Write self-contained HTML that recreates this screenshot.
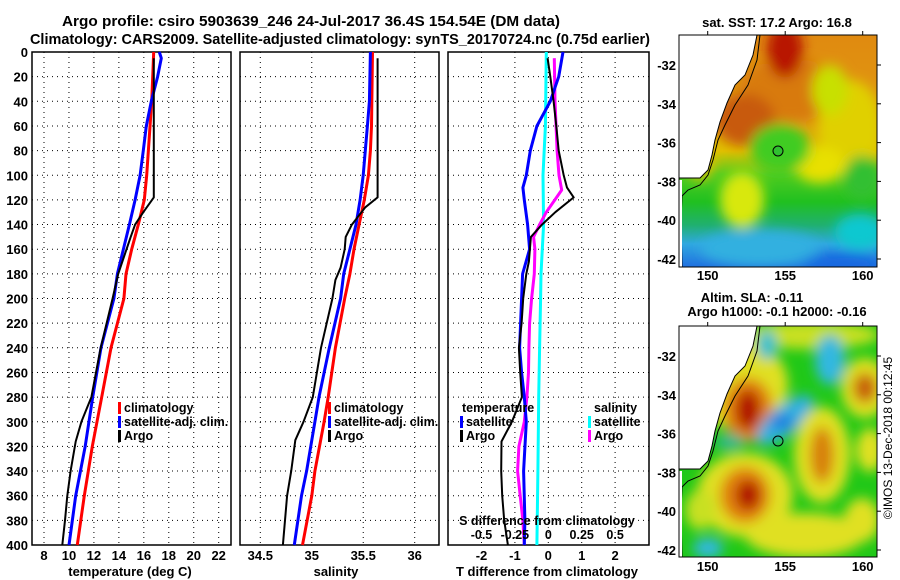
<!DOCTYPE html>
<html><head><meta charset="utf-8">
<style>
html,body{margin:0;padding:0;background:#fff;}
svg{display:block;font-family:"Liberation Sans",Arial,sans-serif;font-weight:bold;}
</style></head>
<body>
<svg id="chart" width="900" height="580" viewBox="0 0 900 580" xmlns="http://www.w3.org/2000/svg">
<defs>
  <filter id="blur" x="-50%" y="-50%" width="200%" height="200%"><feGaussianBlur stdDeviation="6"/></filter>
  <clipPath id="clipTop"><rect x="679" y="35" width="198" height="232"/></clipPath>
  <clipPath id="clipBot"><rect x="679" y="326" width="198" height="231"/></clipPath>
  <linearGradient id="sstBase" x1="0" y1="35" x2="0" y2="267" gradientUnits="userSpaceOnUse">
    <stop offset="0" stop-color="#e08a10"/><stop offset="0.37" stop-color="#e09a10"/>
    <stop offset="0.5" stop-color="#e0c000"/><stop offset="0.6" stop-color="#50cc20"/>
    <stop offset="0.72" stop-color="#20c020"/><stop offset="0.82" stop-color="#20b070"/>
    <stop offset="0.9" stop-color="#30a8e0"/><stop offset="1" stop-color="#2070e0"/>
  </linearGradient>
</defs>
<text x="62" y="26" font-size="15" textLength="498" lengthAdjust="spacingAndGlyphs">Argo profile: csiro 5903639_246 24-Jul-2017 36.4S 154.54E (DM data)</text>
<text x="30" y="44" font-size="15" textLength="620" lengthAdjust="spacingAndGlyphs">Climatology: CARS2009. Satellite-adjusted climatology: synTS_20170724.nc (0.75d earlier)</text>
<g id="panels"></g>
<g id="maps">
  <g clip-path="url(#clipTop)">
    <rect x="679" y="35" width="198" height="232" fill="url(#sstBase)"/>
    <g filter="url(#blur)">
      <ellipse cx="790" cy="90" rx="50" ry="32" fill="#d87a10"/>
      <ellipse cx="785" cy="50" rx="18" ry="28" fill="#b81800"/>
      <ellipse cx="745" cy="120" rx="30" ry="26" fill="#c85a10"/>
      <ellipse cx="850" cy="125" rx="32" ry="45" fill="#e0d000"/>
      <ellipse cx="830" cy="90" rx="18" ry="25" fill="#c8e000"/>
      <ellipse cx="820" cy="165" rx="25" ry="18" fill="#e8e000"/>
      <ellipse cx="780" cy="148" rx="30" ry="24" fill="#40cc20"/>
      <ellipse cx="742" cy="200" rx="22" ry="28" fill="#d8e810"/>
      <ellipse cx="862" cy="178" rx="18" ry="22" fill="#30c030"/>
      <ellipse cx="760" cy="248" rx="60" ry="18" fill="#30b0e0"/>
      <ellipse cx="860" cy="232" rx="25" ry="18" fill="#10c8d0"/>
      <ellipse cx="840" cy="264" rx="40" ry="10" fill="#1868e0"/>
      <ellipse cx="700" cy="160" rx="14" ry="20" fill="#e8c000"/>
    </g>
    <g>
      <polygon points="679,35 757,35 753,55 745,75 735,85 727,103 720,122 715,140 712,155 708,170 700,178 679,178" fill="#fff"/>
      <polyline points="757,35 753,55 745,75 735,85 727,103 720,122 715,140 712,155 708,170 700,178 679,178" fill="none" stroke="#000" stroke-width="1"/>
      <polyline points="760,35 757,60 748,85 735,105 725,125 718,140 713,160 708,175 700,185 688,190 682,196 681,220 682,267" fill="none" stroke="#000" stroke-width="1"/>
      <rect x="679" y="180" width="3" height="87" fill="#fff"/>
    </g>
    <circle cx="778" cy="151" r="5" fill="#30c030" stroke="#000" stroke-width="1"/>
  </g>
  <rect x="679" y="35" width="198" height="232" fill="none" stroke="#000" stroke-width="1"/>
  <g clip-path="url(#clipBot)">
    <rect x="679" y="326" width="198" height="231" fill="#20c818"/>
    <g filter="url(#blur)">
      <ellipse cx="810" cy="335" rx="70" ry="14" fill="#c8e020"/>
      <ellipse cx="740" cy="385" rx="48" ry="45" fill="#e0e020"/>
      <ellipse cx="748" cy="410" rx="25" ry="32" fill="#e08010"/>
      <ellipse cx="748" cy="410" rx="12" ry="20" fill="#b01000"/>
      <ellipse cx="745" cy="495" rx="48" ry="42" fill="#e0e020"/>
      <ellipse cx="745" cy="495" rx="25" ry="28" fill="#e08010"/>
      <ellipse cx="748" cy="495" rx="12" ry="15" fill="#b01000"/>
      <ellipse cx="785" cy="420" rx="35" ry="14" fill="#30b0e0" transform="rotate(-40 785 420)"/>
      <ellipse cx="782" cy="422" rx="12" ry="8" fill="#2080e0"/>
      <ellipse cx="767" cy="345" rx="10" ry="15" fill="#30c0d0"/>
      <ellipse cx="830" cy="360" rx="15" ry="25" fill="#30b8e0"/>
      <ellipse cx="822" cy="455" rx="28" ry="48" fill="#e0e020"/>
      <ellipse cx="822" cy="455" rx="12" ry="28" fill="#d88010"/>
      <ellipse cx="865" cy="388" rx="24" ry="30" fill="#e0e020"/>
      <ellipse cx="865" cy="388" rx="12" ry="15" fill="#c86010"/>
      <ellipse cx="870" cy="450" rx="14" ry="22" fill="#e0e020"/>
      <ellipse cx="805" cy="535" rx="60" ry="22" fill="#e0e020"/>
      <ellipse cx="862" cy="520" rx="18" ry="22" fill="#e0e020"/>
      <ellipse cx="708" cy="548" rx="15" ry="10" fill="#30b8e0"/>
      <ellipse cx="730" cy="442" rx="15" ry="8" fill="#30b890"/>
      <ellipse cx="700" cy="510" rx="15" ry="20" fill="#c8e020"/>
    </g>
    <g transform="translate(0,291)">
      <polygon points="679,35 757,35 753,55 745,75 735,85 727,103 720,122 715,140 712,155 708,170 700,178 679,178" fill="#fff"/>
      <polyline points="757,35 753,55 745,75 735,85 727,103 720,122 715,140 712,155 708,170 700,178 679,178" fill="none" stroke="#000" stroke-width="1"/>
      <polyline points="760,35 757,60 748,85 735,105 725,125 718,140 713,160 708,175 700,185 688,190 682,196 681,220 682,267" fill="none" stroke="#000" stroke-width="1"/>
      <rect x="679" y="180" width="3" height="87" fill="#fff"/>
    </g>
    <circle cx="778" cy="441" r="5" fill="none" stroke="#000" stroke-width="1"/>
  </g>
  <rect x="679" y="326" width="198" height="231" fill="none" stroke="#000" stroke-width="1"/>
  <text x="777" y="27" font-size="13" text-anchor="middle">sat. SST: 17.2 Argo: 16.8</text>
  <text x="752" y="302" font-size="13" text-anchor="middle">Altim. SLA: -0.11</text>
  <text x="777" y="316" font-size="13" text-anchor="middle">Argo h1000: -0.1 h2000: -0.16</text>
  <text x="0" y="0" font-size="12" font-weight="normal" text-anchor="middle" transform="translate(892,438) rotate(-90)">©IMOS 13-Dec-2018 00:12:45</text>
  <g id="mapAxes"></g>
</g>
</svg>
<script>
// ---------- data ----------
const depthTicks = [0,20,40,60,80,100,120,140,160,180,200,220,240,260,280,300,320,340,360,380,400];
const tempTicks = [8,10,12,14,16,18,20,22];
const salTicks = [34.5,35,35.5,36];
const salTickLabels = ['34.5','35','35.5','36'];
const tdiffTicks = [-2,-1,0,1,2];
const sdiffTicks = [-0.5,-0.25,0,0.25,0.5];
const sdiffTickLabels = ['-0.5','-0.25','0','0.25','0.5'];

const climTDepth = [0,40,100,120,140,160,180,200,240,280,320,360,400];
const climT      = [16.79,16.63,16.23,16.04,15.56,15.03,14.57,14.4,13.37,12.62,11.87,11.23,10.67];
const satTDepth  = [0,5,20,40,60,80,100,120,140,160,180,200,240,280,320,360,400];
const satT       = [17.24,17.4,17.1,16.6,16.2,15.96,15.7,15.3,14.84,14.36,13.88,13.6,12.57,11.9,11.3,10.54,10.0];
const argoTDepth = [5,118,130,140,150,180,200,240,260,280,290,300,316,340,360,380,400];
const argoT      = [16.8,16.8,15.96,15.3,14.95,13.95,13.5,12.54,12.17,11.8,11.4,11.0,10.54,10.13,9.87,9.68,9.47];

const climSDepth = [0,60,80,100,120,140,160,180,200,240,280,300,340,360,400];
const climS      = [35.59,35.58,35.57,35.55,35.51,35.46,35.41,35.37,35.32,35.23,35.16,35.12,35.03,35.0,34.91];
const satSDepth  = [0,20,40,60,80,100,120,140,160,180,200,240,280,300,340,360,400];
const satS       = [35.57,35.565,35.56,35.54,35.52,35.5,35.47,35.43,35.37,35.31,35.28,35.17,35.07,35.03,34.95,34.9,34.83];
const argoSDepth = [5,118,126,140,150,160,175,185,200,240,280,300,315,340,360,400];
const argoS      = [35.64,35.64,35.52,35.39,35.33,35.32,35.28,35.23,35.2,35.09,35.01,34.92,34.84,34.8,34.76,34.72];

const dSatTDepth = [0,20,40,60,80,100,110,120,140,160,180,200,220,240,260,280,300,340,380,400];
const dSatT      = [0.44,0.31,0.06,-0.34,-0.54,-0.66,-0.76,-0.72,-0.62,-0.56,-0.77,-0.8,-0.83,-0.86,-0.8,-0.72,-0.66,-0.74,-0.7,-0.72];
const dArgoTDepth= [5,20,40,60,80,100,110,118,130,140,150,170,180,200,220,240,260,280,300,316,340,360,380,400];
const dArgoT     = [-0.02,0.06,0.16,0.24,0.31,0.46,0.56,0.76,0.21,-0.19,-0.52,-0.58,-0.66,-0.75,-0.8,-0.88,-0.84,-0.79,-1.09,-1.4,-1.41,-1.38,-1.32,-1.21];
const dSatSDepth = [0,60,100,140,180,200,240,280,340,400];
const dSatS      = [-0.015,-0.022,-0.04,-0.035,-0.055,-0.058,-0.065,-0.072,-0.078,-0.085];
const dArgoSDepth= [5,40,80,100,112,130,140,150,160,180,200,220,240,260,280,300,320,340,360,380,400];
const dArgoS     = [0.045,0.05,0.066,0.08,0.1,-0.015,-0.065,-0.11,-0.1,-0.105,-0.125,-0.14,-0.145,-0.148,-0.16,-0.18,-0.22,-0.23,-0.21,-0.19,-0.18];

const mapLatTicks = [-32,-34,-36,-38,-40,-42];
const mapLonTicks = [150,155,160];

// ---------- helpers ----------
const NS = 'http://www.w3.org/2000/svg';
function el(tag, attrs, parent){const e=document.createElementNS(NS,tag);for(const k in attrs)e.setAttribute(k,attrs[k]);parent.appendChild(e);return e;}
const Y0=52, Y1=545;
function yD(d){return Y0+(Y1-Y0)*d/400;}
function lin(v0,p0,v1,p1){return v=>p0+(v-v0)*(p1-p0)/(v1-v0);}
const panelsG=document.getElementById('panels');

function drawPanel(name,x0,x1,xs,ticks,labels,gridTicks){
  const g=el('g',{},panelsG);
  
  
  depthTicks.forEach(d=>{ if(d>0&&d<400){ const l=el('line',{x1:x0,x2:x1,y1:yD(d),y2:yD(d),stroke:'#000','stroke-width':1,'stroke-dasharray':'1,4'},g);
     }});
  gridTicks.forEach(v=>{ const l=el('line',{x1:xs(v),x2:xs(v),y1:Y0,y2:Y1,stroke:'#000','stroke-width':1,'stroke-dasharray':'1,4'},g);
     });
  if(ticks){ ticks.forEach((v,i)=>{ const t=el('text',{x:xs(v),y:560,'font-size':13,'text-anchor':'middle'},g); t.textContent=labels[i];
     });}
  const fr=el('rect',{x:x0,y:Y0,width:x1-x0,height:Y1-Y0,fill:'none',stroke:'#000','stroke-width':1.5},g);
   
  return g;
}
function drawLine(g,xs,vals,depths,color,w,name){
  const pts=vals.map((v,i)=>xs(v).toFixed(1)+','+yD(depths[i]).toFixed(1)).join(' ');
  const p=el('polyline',{points:pts,fill:'none',stroke:color,'stroke-width':w,'stroke-linejoin':'round'},g);
  
  
}
function legend(g,x,y,color,label,name){
  el('rect',{x:x,y:y-10,width:3,height:12,fill:color},g);
  const t=el('text',{x:x+6,y:y,'font-size':12.5},g); t.textContent=label;
  
  
}

depthTicks.forEach(d=>{ const t=el('text',{x:28,y:yD(d)+5,'font-size':13,'text-anchor':'end'},panelsG); t.textContent=d;
   });

// Panel 1 temperature
const xT=lin(8,44,22,218.7);
const g1=drawPanel('temperature-panel',32,231,xT,tempTicks,tempTicks.map(String),tempTicks);
drawLine(g1,xT,climT,climTDepth,'#ff0000',3,'climatology-temperature-line');
drawLine(g1,xT,satT,satTDepth,'#0000ff',3,'satellite-temperature-line');
drawLine(g1,xT,argoT,argoTDepth,'#000',2,'argo-temperature-line');
legend(g1,118,412,'#ff0000','climatology','legend-climatology');
legend(g1,118,426,'#0000ff','satellite-adj. clim.','legend-satellite');
legend(g1,118,440,'#000','Argo','legend-argo');
let t=el('text',{x:130,y:576,'font-size':13,'text-anchor':'middle'},panelsG); t.textContent='temperature (deg C)';
 

// Panel 2 salinity
const xS=lin(34.5,260.3,36,414.7);
const g2=drawPanel('salinity-panel',240,439,xS,salTicks,salTickLabels,salTicks);
drawLine(g2,xS,climS,climSDepth,'#ff0000',3,'climatology-salinity-line');
drawLine(g2,xS,satS,satSDepth,'#0000ff',3,'satellite-salinity-line');
drawLine(g2,xS,argoS,argoSDepth,'#000',2,'argo-salinity-line');
legend(g2,328,412,'#ff0000','climatology','legend-climatology-s');
legend(g2,328,426,'#0000ff','satellite-adj. clim.','legend-satellite-s');
legend(g2,328,440,'#000','Argo','legend-argo-s');
t=el('text',{x:336,y:576,'font-size':13,'text-anchor':'middle'},panelsG); t.textContent='salinity';
 

// Panel 3 differences
const xDT=lin(0,548.3,1,581.7);
const xDS=lin(0,548.3,0.25,581.7);
const g3=drawPanel('difference-panel',448,649,xDT,tdiffTicks,tdiffTicks.map(String),tdiffTicks);
drawLine(g3,xDS,dSatS,dSatSDepth,'#00ffff',3,'satellite-salinity-difference-line');
drawLine(g3,xDS,dArgoS,dArgoSDepth,'#ff00ff',3,'argo-salinity-difference-line');
drawLine(g3,xDT,dSatT,dSatTDepth,'#0000ff',3,'satellite-temperature-difference-line');
drawLine(g3,xDT,dArgoT,dArgoTDepth,'#000',2,'argo-temperature-difference-line');
t=el('text',{x:462,y:412,'font-size':12.5},g3); t.textContent='temperature';
 
legend(g3,460,426,'#0000ff','satellite','legend-t-satellite');
legend(g3,460,440,'#000','Argo','legend-t-argo');
t=el('text',{x:594,y:412,'font-size':12.5},g3); t.textContent='salinity';
 
legend(g3,588,426,'#00ffff','satellite','legend-s-satellite');
legend(g3,588,440,'#ff00ff','Argo','legend-s-argo');
t=el('text',{x:547,y:525,'font-size':12.5,'text-anchor':'middle'},g3); t.textContent='S difference from climatology';
 
sdiffTicks.forEach((v,i)=>{ const s=el('text',{x:xDS(v),y:539,'font-size':12.5,'text-anchor':'middle'},g3); s.textContent=sdiffTickLabels[i];
   });
t=el('text',{x:547,y:576,'font-size':13,'text-anchor':'middle'},panelsG); t.textContent='T difference from climatology';
 

// Map axes
const mapAx=document.getElementById('mapAxes');
const latY=lin(-32,65,-42,259);
const lonX=lin(150,707.7,160,862.7);
[[0,280],[291,571]].forEach(([off,ly])=>{
  mapLatTicks.forEach(v=>{ const y=latY(v)+off;
    const s=el('text',{x:676,y:y+5,'font-size':13,'text-anchor':'end'},mapAx); s.textContent=String(v);
     
    el('line',{x1:877,x2:881,y1:y,y2:y,stroke:'#000'},mapAx);
  });
  mapLonTicks.forEach(v=>{ const x=lonX(v);
    const s=el('text',{x:x,y:ly,'font-size':13,'text-anchor':'middle'},mapAx); s.textContent=String(v);
     
    el('line',{x1:x,x2:x,y1:35+off-4,y2:35+off,stroke:'#000'},mapAx);
  });
});
</script>
</body></html>
